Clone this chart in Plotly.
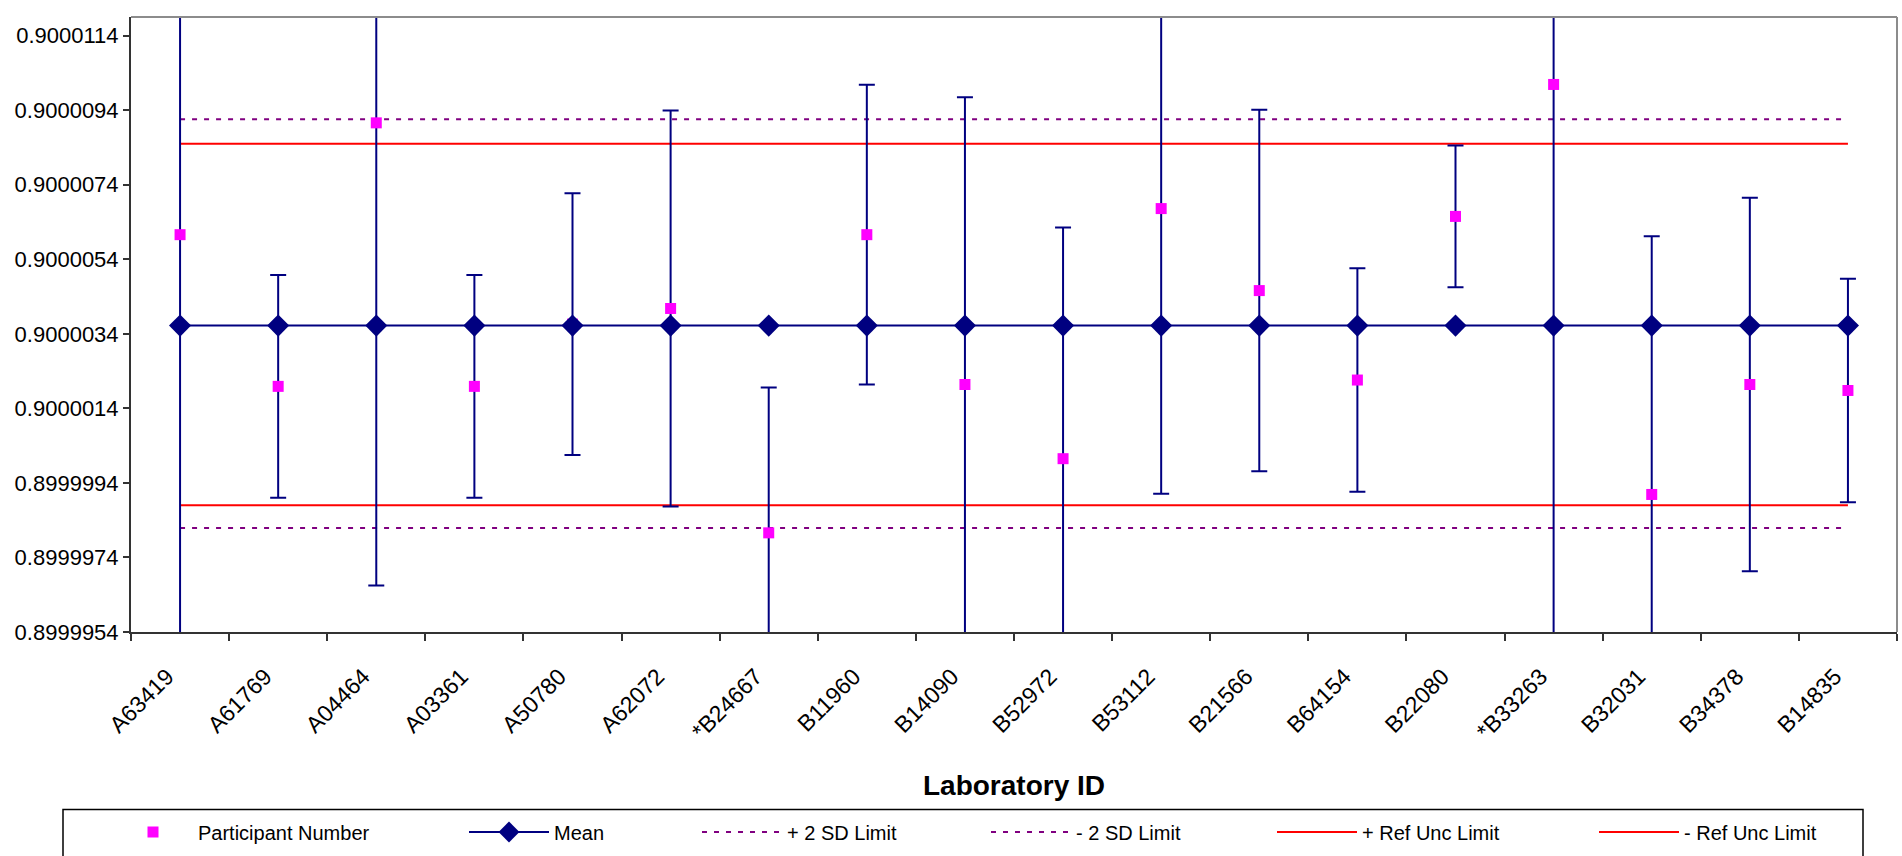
import plotly.graph_objects as go

# ---------------- data ----------------
labs = ["A63419", "A61769", "A04464", "A03361", "A50780", "A62072", "*B24667",
        "B11960", "B14090", "B52972", "B53112", "B21566", "B64154", "B22080",
        "*B33263", "B32031", "B34378", "B14835"]

participant = [0.90000606, 0.90000199, 0.90000906, 0.90000199, 0.90000366, 0.90000408,
               0.89999806, 0.90000606, 0.90000204, 0.90000005, 0.90000676, 0.90000456,
               0.90000216, 0.90000655, 0.90001009, 0.89999909, 0.90000204, 0.90000188]

uncertainty = [0.00001200, 0.00000299, 0.00001241, 0.00000299, 0.00000351, 0.00000531,
               0.00000390, 0.00000402, 0.00000771, 0.00000620, 0.00000765, 0.00000485,
               0.00000300, 0.00000190, 0.00001600, 0.00000693, 0.00000501, 0.00000300]

mean_value = 0.90000362
sd_upper_value = 0.90000916
sd_lower_value = 0.89999819
ref_upper_value = 0.90000850
ref_lower_value = 0.89999880

y_tick0 = 0.8999954
y_dtick = 0.000002
y_max = 0.9000119

n = len(labs)
mean_series = [mean_value] * n
sd_upper = [sd_upper_value] * n
sd_lower = [sd_lower_value] * n
ref_upper = [ref_upper_value] * n
ref_lower = [ref_lower_value] * n

# ---------------- styles ----------------
NAVY = "#000080"
MAGENTA = "#FF00FF"
PURPLE = "#800080"
RED = "#FF0000"
FONT = "Liberation Sans, Arial, sans-serif"

W, H = 1902, 856
fig = go.Figure()

fig.add_trace(go.Scatter(x=labs, y=sd_upper, mode="lines", name="+ 2 SD Limit",
                         line=dict(color=PURPLE, width=2, dash="5px,7px"),
                         legend="legend3"))
fig.add_trace(go.Scatter(x=labs, y=sd_lower, mode="lines", name="- 2 SD Limit",
                         line=dict(color=PURPLE, width=2, dash="5px,7px"),
                         legend="legend4"))
fig.add_trace(go.Scatter(x=labs, y=ref_upper, mode="lines", name="+ Ref Unc Limit",
                         line=dict(color=RED, width=2), legend="legend5"))
fig.add_trace(go.Scatter(x=labs, y=ref_lower, mode="lines", name="- Ref Unc Limit",
                         line=dict(color=RED, width=2), legend="legend6"))
fig.add_trace(go.Scatter(x=labs, y=participant, mode="markers", name="Participant Number",
                         marker=dict(symbol="square", size=11, color=MAGENTA),
                         error_y=dict(type="data", array=uncertainty, symmetric=True,
                                      color=NAVY, thickness=2, width=8),
                         legend="legend"))
fig.add_trace(go.Scatter(x=labs, y=mean_series, mode="lines+markers", name="Mean",
                         line=dict(color=NAVY, width=2),
                         marker=dict(symbol="diamond", size=17, color=NAVY),
                         legend="legend2"))

# legend placement (item origins in px)
leg_y = 1 - 832 / H
origins = [108, 464, 697, 986, 1272, 1594]
legend_names = ["legend", "legend2", "legend3", "legend4", "legend5", "legend6"]
leg_layout = {}
for name, ox in zip(legend_names, origins):
    leg_layout[name] = dict(
        x=ox / W, y=leg_y, xref="container", yref="container",
        xanchor="left", yanchor="middle", orientation="h",
        bgcolor="rgba(0,0,0,0)", borderwidth=0, itemwidth=80,
        font=dict(family=FONT, size=20, color="black"))

plot_l, plot_r, plot_t, plot_b = 131, 1897, 17, 632
fig.update_layout(
    width=W, height=H,
    margin=dict(l=plot_l, r=W - plot_r, t=plot_t, b=H - plot_b, pad=0),
    paper_bgcolor="white", plot_bgcolor="white",
    font=dict(family=FONT, size=21, color="black"),
    showlegend=True,
    **leg_layout,
)

fig.update_xaxes(
    type="category", categoryorder="array", categoryarray=labs,
    range=[-0.5, n - 0.5], autorange=False,
    tickangle=-45, tickfont=dict(size=23, color="black"),
    ticklabelstandoff=20, ticklabelshift=-13,
    ticks="outside", tickson="boundaries", ticklen=7, tickwidth=1.5, tickcolor="#333333",
    showline=True, linecolor="#333333", linewidth=2, showgrid=False, zeroline=False,
    title=dict(text="<b>Laboratory ID</b>", font=dict(size=28, color="black"), standoff=32),
)
fig.update_yaxes(
    range=[y_tick0, y_max], autorange=False, tick0=y_tick0, dtick=y_dtick, tickmode="linear",
    tickformat=".7f", tickfont=dict(size=22, color="black"),
    ticks="outside", ticklen=6, tickwidth=1.5, tickcolor="#333333", ticklabelstandoff=0,
    showline=True, linecolor="#333333", linewidth=2, showgrid=False, zeroline=False,
)

# top / right plot frame (grey) and legend box
fig.add_shape(type="line", xref="paper", yref="paper", x0=0, x1=1, y0=1, y1=1,
              line=dict(color="#8C8C8C", width=2), layer="above")
fig.add_shape(type="line", xref="paper", yref="paper", x0=1, x1=1, y0=0, y1=1,
              line=dict(color="#8C8C8C", width=2), layer="above")
pw, ph = plot_r - plot_l, plot_b - plot_t
fig.add_shape(type="rect", xref="paper", yref="paper",
              x0=(63 - plot_l) / pw, x1=(1863 - plot_l) / pw,
              y0=(plot_b - 870) / ph, y1=(plot_b - 809.5) / ph,
              line=dict(color="black", width=1.5), fillcolor="rgba(0,0,0,0)", layer="above")

fig.write_html("out.html", include_plotlyjs=True,
               config={"displayModeBar": False},
               post_script="document.body.style.margin='0';document.body.style.overflow='hidden';")
